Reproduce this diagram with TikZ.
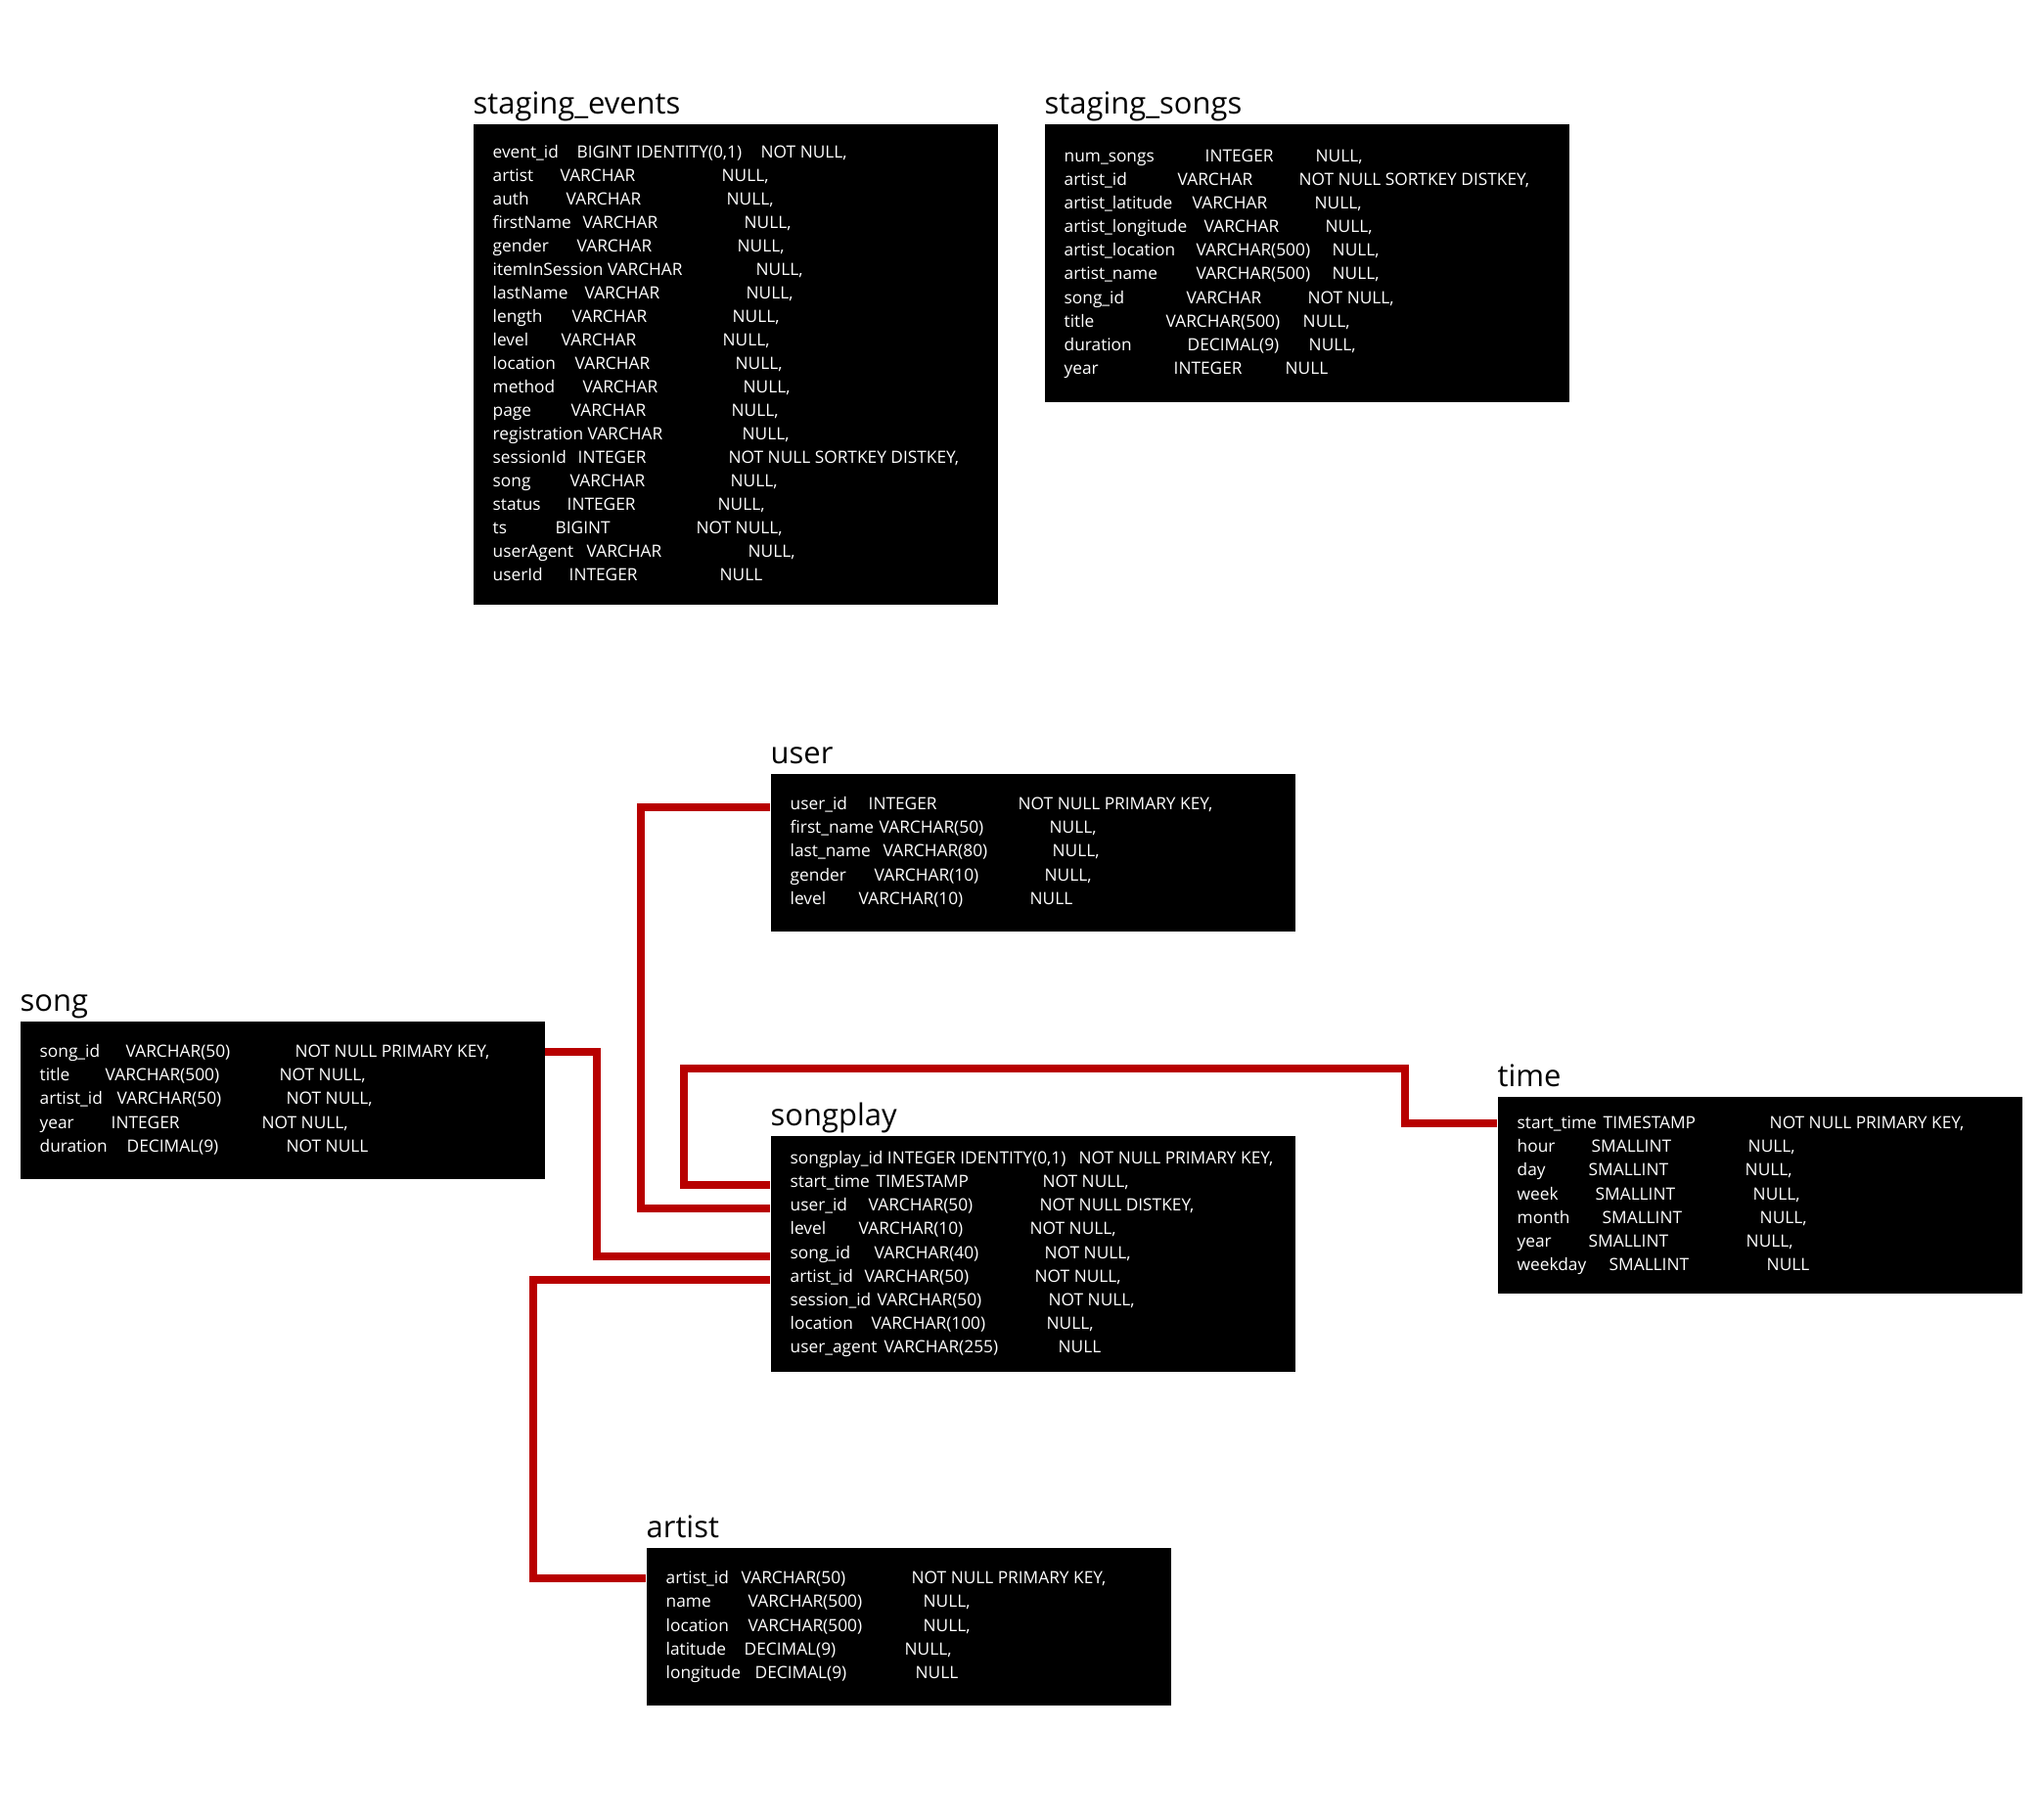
\documentclass[tikz,border=0pt]{standalone}
\usepackage{fontspec}
\setmainfont{Open Sans}
\usepackage{xcolor}
\usetikzlibrary{positioning}
\definecolor{fkred}{RGB}{184,0,0}
% one column row: name, x of type, type, x of constraint, constraint
\newlength\fldA
\newlength\fldB
\newcommand\fld[5]{%
  \settowidth\fldA{#1\ }\ifdim\fldA<#2\relax\setlength\fldA{#2}\fi
  \settowidth\fldB{#3\ }\addtolength\fldB{\fldA}%
  \ifdim\fldB<#4\relax\setlength\fldB{#4}\fi
  \addtolength\fldB{-\fldA}%
  \makebox[4.96cm][l]{\makebox[\fldA][l]{#1}\makebox[\fldB][l]{#3}#5}\strut}
\tikzset{
  tbl/.style={rectangle, fill=black, text=white, anchor=north west, align=left,
              minimum width=5.36cm, inner xsep=0.2cm, inner ysep=0pt,
              font=\fontsize{4.92pt}{6.83pt}\selectfont},
  ttl/.style={inner sep=0pt, text=black, font=\fontsize{8.8pt}{10pt}\selectfont},
  fk/.style={draw=fkred, line width=0.08cm},
}
\begin{document}
\begin{tikzpicture}[ttlpos/.style={above right=0.095cm and 0cm of #1, anchor=base west}]
  \path[fill=white] (0,0) rectangle (20.86,-18.60);
  % staging tables
  \node[tbl, minimum height=4.91cm] (se) at (4.83,-1.265) {%
    \fld{event\_id}{0.86cm}{BIGINT IDENTITY(0,1)}{2.74cm}{NOT NULL,}\\
    \fld{artist}{0.69cm}{VARCHAR}{2.34cm}{NULL,}\\
    \fld{auth}{0.75cm}{VARCHAR}{2.39cm}{NULL,}\\
    \fld{firstName}{0.92cm}{VARCHAR}{2.57cm}{NULL,}\\
    \fld{gender}{0.86cm}{VARCHAR}{2.50cm}{NULL,}\\
    \fld{itemInSession}{1.15cm}{VARCHAR}{2.69cm}{NULL,}\\
    \fld{lastName}{0.94cm}{VARCHAR}{2.59cm}{NULL,}\\
    \fld{length}{0.81cm}{VARCHAR}{2.45cm}{NULL,}\\
    \fld{level}{0.70cm}{VARCHAR}{2.35cm}{NULL,}\\
    \fld{location}{0.84cm}{VARCHAR}{2.48cm}{NULL,}\\
    \fld{method}{0.92cm}{VARCHAR}{2.56cm}{NULL,}\\
    \fld{page}{0.80cm}{VARCHAR}{2.44cm}{NULL,}\\
    \fld{registration}{0.96cm}{VARCHAR}{2.55cm}{NULL,}\\
    \fld{sessionId}{0.87cm}{INTEGER}{2.41cm}{NOT NULL SORTKEY DISTKEY,}\\
    \fld{song}{0.79cm}{VARCHAR}{2.43cm}{NULL,}\\
    \fld{status}{0.76cm}{INTEGER}{2.30cm}{NULL,}\\
    \fld{ts}{0.64cm}{BIGINT}{2.08cm}{NOT NULL,}\\
    \fld{userAgent}{0.96cm}{VARCHAR}{2.61cm}{NULL,}\\
    \fld{userId}{0.78cm}{INTEGER}{2.32cm}{NULL}};
  \node[ttl, ttlpos=se.north west] (se-t) {staging\_events};
  \node[tbl, minimum height=2.84cm] (ss) at (10.67,-1.265) {%
    \fld{num\_songs}{1.44cm}{INTEGER}{2.57cm}{NULL,}\\
    \fld{artist\_id}{1.16cm}{VARCHAR}{2.40cm}{NOT NULL SORTKEY DISTKEY,}\\
    \fld{artist\_latitude}{1.31cm}{VARCHAR}{2.56cm}{NULL,}\\
    \fld{artist\_longitude}{1.43cm}{VARCHAR}{2.67cm}{NULL,}\\
    \fld{artist\_location}{1.35cm}{VARCHAR(500)}{2.74cm}{NULL,}\\
    \fld{artist\_name}{1.35cm}{VARCHAR(500)}{2.74cm}{NULL,}\\
    \fld{song\_id}{1.25cm}{VARCHAR}{2.49cm}{NOT NULL,}\\
    \fld{title}{1.04cm}{VARCHAR(500)}{2.44cm}{NULL,}\\
    \fld{duration}{1.26cm}{DECIMAL(9)}{2.50cm}{NULL,}\\
    \fld{year}{1.12cm}{INTEGER}{2.26cm}{NULL}};
  \node[ttl, ttlpos=ss.north west] (ss-t) {staging\_songs};
  % star schema
  \node[tbl, minimum height=1.61cm] (usr) at (7.87,-7.90) {%
    \fld{user\_id}{0.80cm}{INTEGER}{2.33cm}{NOT NULL PRIMARY KEY,}\\
    \fld{first\_name}{0.91cm}{VARCHAR(50)}{2.65cm}{NULL,}\\
    \fld{last\_name}{0.95cm}{VARCHAR(80)}{2.68cm}{NULL,}\\
    \fld{gender}{0.86cm}{VARCHAR(10)}{2.60cm}{NULL,}\\
    \fld{level}{0.70cm}{VARCHAR(10)}{2.45cm}{NULL}};
  \node[ttl, ttlpos=usr.north west] (usr-t) {user};
  \node[tbl, minimum height=1.61cm] (sng) at (0.20,-10.43) {%
    \fld{song\_id}{0.88cm}{VARCHAR(50)}{2.61cm}{NOT NULL PRIMARY KEY,}\\
    \fld{title}{0.67cm}{VARCHAR(500)}{2.45cm}{NOT NULL,}\\
    \fld{artist\_id}{0.79cm}{VARCHAR(50)}{2.52cm}{NOT NULL,}\\
    \fld{year}{0.73cm}{INTEGER}{2.27cm}{NOT NULL,}\\
    \fld{duration}{0.89cm}{DECIMAL(9)}{2.52cm}{NOT NULL}};
  \node[ttl, ttlpos=sng.north west] (sng-t) {song};
  \node[tbl, minimum height=2.41cm] (sp) at (7.87,-11.60) {%
    \fld{songplay\_id}{0.99cm}{INTEGER IDENTITY(0,1)}{2.95cm}{NOT NULL PRIMARY KEY,}\\
    \fld{start\_time}{0.88cm}{TIMESTAMP}{2.58cm}{NOT NULL,}\\
    \fld{user\_id}{0.80cm}{VARCHAR(50)}{2.55cm}{NOT NULL DISTKEY,}\\
    \fld{level}{0.70cm}{VARCHAR(10)}{2.45cm}{NOT NULL,}\\
    \fld{song\_id}{0.86cm}{VARCHAR(40)}{2.60cm}{NOT NULL,}\\
    \fld{artist\_id}{0.76cm}{VARCHAR(50)}{2.50cm}{NOT NULL,}\\
    \fld{session\_id}{0.89cm}{VARCHAR(50)}{2.64cm}{NOT NULL,}\\
    \fld{location}{0.83cm}{VARCHAR(100)}{2.62cm}{NULL,}\\
    \fld{user\_agent}{0.96cm}{VARCHAR(255)}{2.74cm}{NULL}};
  \node[ttl, ttlpos=sp.north west] (sp-t) {songplay};
  \node[tbl, minimum height=2.01cm] (tm) at (15.30,-11.20) {%
    \fld{start\_time}{0.88cm}{TIMESTAMP}{2.58cm}{NOT NULL PRIMARY KEY,}\\
    \fld{hour}{0.76cm}{SMALLINT}{2.36cm}{NULL,}\\
    \fld{day}{0.73cm}{SMALLINT}{2.33cm}{NULL,}\\
    \fld{week}{0.80cm}{SMALLINT}{2.41cm}{NULL,}\\
    \fld{month}{0.87cm}{SMALLINT}{2.48cm}{NULL,}\\
    \fld{year}{0.73cm}{SMALLINT}{2.34cm}{NULL,}\\
    \fld{weekday}{0.94cm}{SMALLINT}{2.55cm}{NULL}};
  \node[ttl, ttlpos=tm.north west] (tm-t) {time};
  \node[tbl, minimum height=1.61cm] (art) at (6.60,-15.81) {%
    \fld{artist\_id}{0.77cm}{VARCHAR(50)}{2.51cm}{NOT NULL PRIMARY KEY,}\\
    \fld{name}{0.84cm}{VARCHAR(500)}{2.63cm}{NULL,}\\
    \fld{location}{0.84cm}{VARCHAR(500)}{2.63cm}{NULL,}\\
    \fld{latitude}{0.80cm}{DECIMAL(9)}{2.44cm}{NULL,}\\
    \fld{longitude}{0.91cm}{DECIMAL(9)}{2.55cm}{NULL}};
  \node[ttl, ttlpos=art.north west] (art-t) {artist};
  % key rows
  \coordinate[below=0.35cm of usr.north west] (usr-id);
  \coordinate[below=0.32cm of sng.north east] (sng-id);
  \coordinate[below=0.28cm of tm.north west] (tm-st);
  \coordinate[below=0.32cm of art.north west] (art-id);
  \coordinate[below=0.51cm of sp.north west] (sp-st);
  \coordinate[below=0.75cm of sp.north west] (sp-uid);
  \coordinate[below=1.24cm of sp.north west] (sp-sid);
  \coordinate[below=1.48cm of sp.north west] (sp-aid);
  % references
  \draw[fk] (usr-id) -- ++(-1.32,0) |- (sp-uid);
  \draw[fk] (tm-st) -- ++(-0.94,0) -- ++(0,0.555) -| ([xshift=-0.88cm]sp-st) -- (sp-st);
  \draw[fk] (sng-id) -| ([xshift=-1.77cm]sp-sid) -- (sp-sid);
  \draw[fk] (sp-aid) -- ++(-2.42,0) |- (art-id);
\end{tikzpicture}
\end{document}
